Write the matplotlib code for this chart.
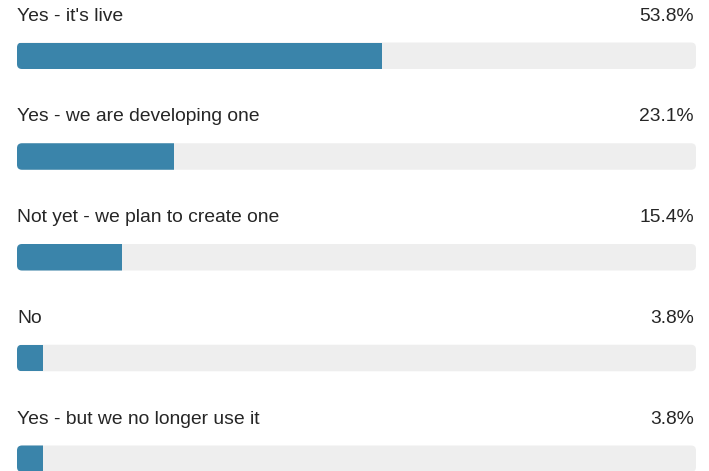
import matplotlib
matplotlib.use("Agg")
import matplotlib.pyplot as plt
from matplotlib.patches import FancyBboxPatch

# Survey answers and share of respondents (%)
categories = [
    "Yes - it's live",
    "Yes - we are developing one",
    "Not yet - we plan to create one",
    "No",
    "Yes - but we no longer use it",
]
values = [53.8, 23.1, 15.4, 3.8, 3.8]
value_labels = ["53.8%", "23.1%", "15.4%", "3.8%", "3.8%"]

W, H, DPI = 709, 471, 100
BAR_COLOR = "#3a84aa"
TRACK_COLOR = "#eeeeee"
TEXT_COLOR = "#262626"
FONT_SIZE = 13.9

plt.rcParams["font.family"] = ["Liberation Sans", "DejaVu Sans"]

fig = plt.figure(figsize=(W / DPI, H / DPI), dpi=DPI)
ax = fig.add_axes([0, 0, 1, 1])

# x axis in percent, track spans 0..100 between pixel 17 and 696
left_px, right_px = 17.0, 696.0
px_per_unit = (right_px - left_px) / 100.0
ax.set_xlim(-left_px / px_per_unit, (W - left_px) / px_per_unit)
# y axis in row units, downward
row_px = 100.75
ax.set_ylim(H / row_px, 0)
ax.axis("off")

bar_top = 42.5 / row_px
bar_h = 26.5 / row_px
text_base = 20.5 / row_px
radius_px = 5.0
r_x = radius_px / px_per_unit
aspect = (1.0 / row_px) / (1.0 / px_per_unit)

for i, (cat, val, lab) in enumerate(zip(categories, values, value_labels)):
    y0 = i + bar_top
    track = FancyBboxPatch((0, y0), 100, bar_h,
                           boxstyle=f"round,pad=0,rounding_size={r_x}",
                           mutation_aspect=aspect,
                           facecolor=TRACK_COLOR, edgecolor="none", zorder=1)
    ax.add_patch(track)
    bars = ax.barh(y0 + bar_h / 2, val, height=bar_h, left=0,
                   color=BAR_COLOR, edgecolor="none", zorder=2)
    for b in bars:
        b.set_clip_path(track)
    ax.text(0, i + text_base, cat, ha="left", va="baseline",
            fontsize=FONT_SIZE, color=TEXT_COLOR)
    ax.text(100 - 2.0 / px_per_unit, i + text_base, lab, ha="right",
            va="baseline", fontsize=FONT_SIZE, color=TEXT_COLOR)

fig.savefig("out.png", dpi=DPI, facecolor="white")
